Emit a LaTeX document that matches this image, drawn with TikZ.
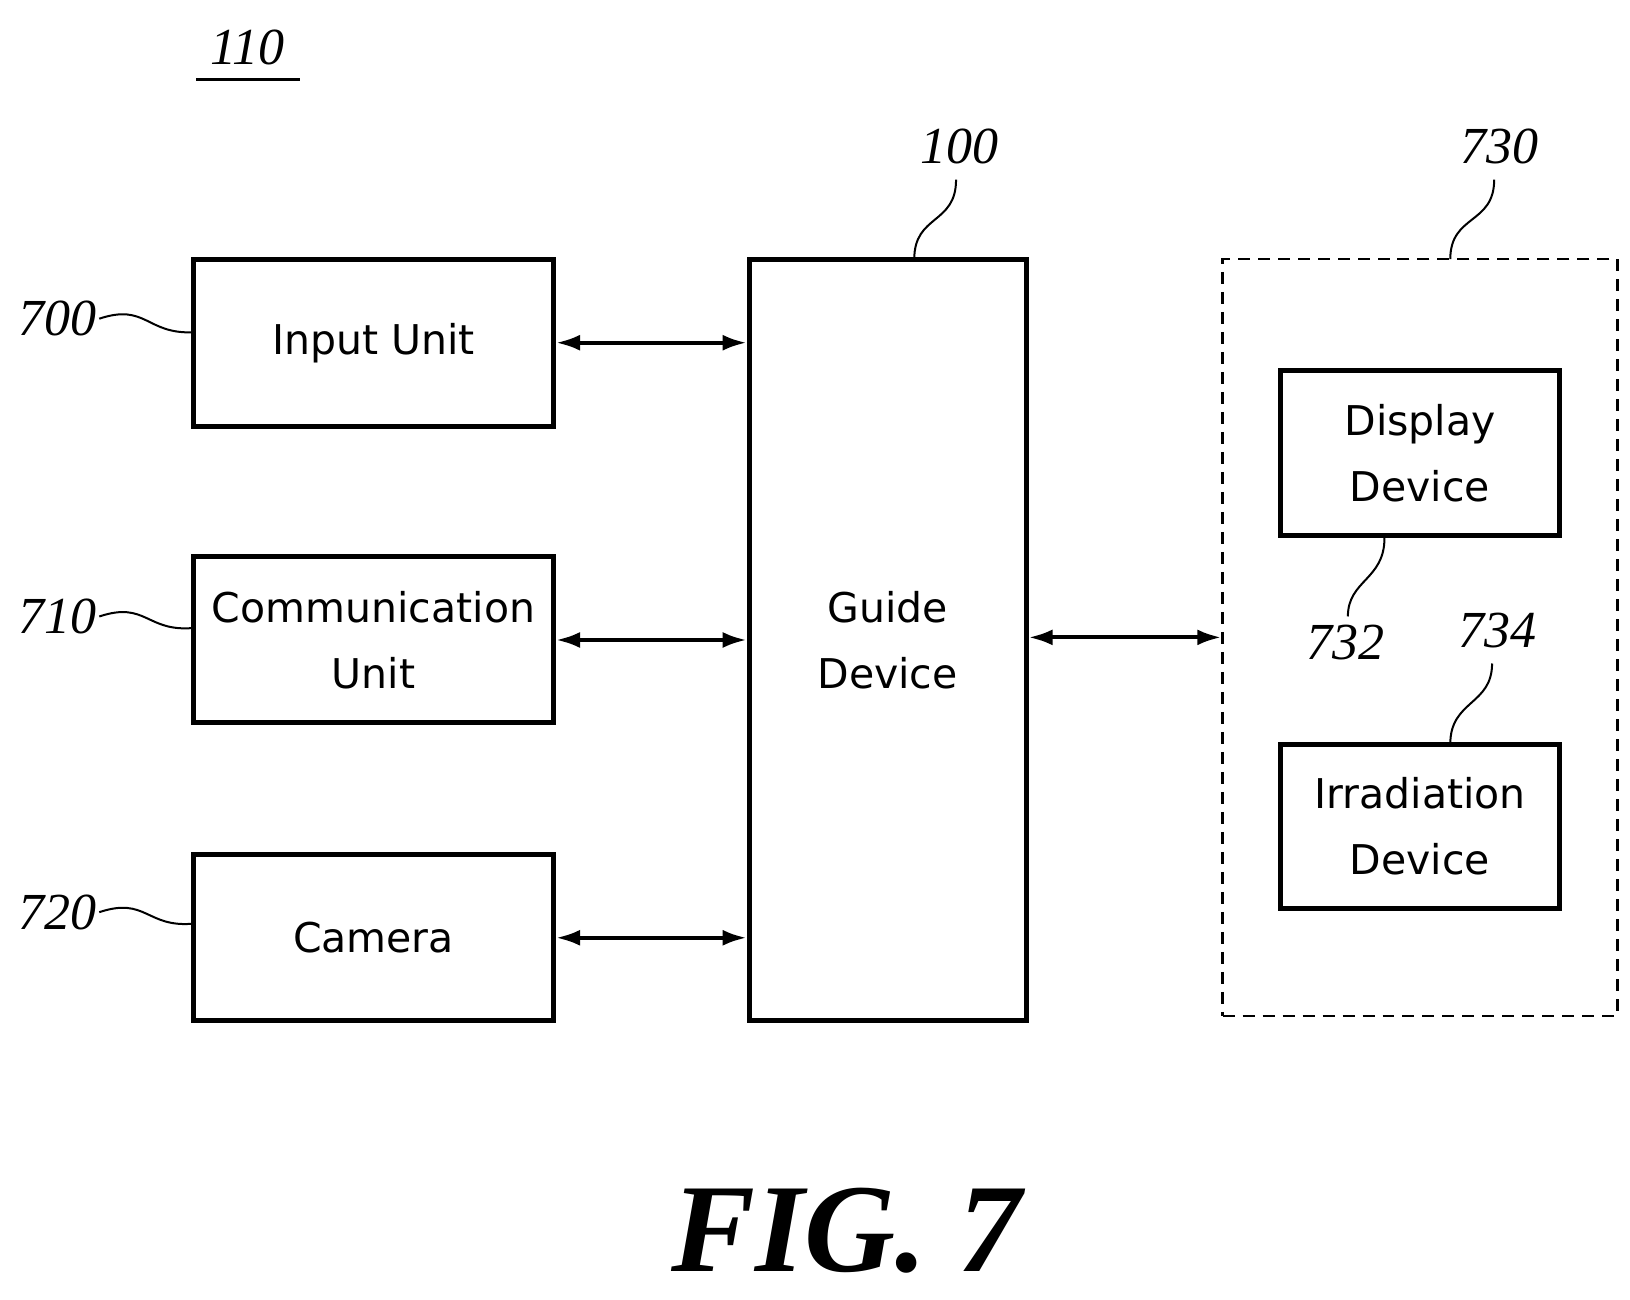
\documentclass[tikz,border=0pt]{standalone}
\usepackage{fontspec}
\setmainfont{Liberation Serif}
\setsansfont{DejaVu Sans}
\usetikzlibrary{arrows.meta}
\begin{document}
\begin{tikzpicture}[x=1.045pt,y=-1.045pt,
 box/.style={draw,line width=5pt,inner sep=0pt,align=center,font=\sffamily\fontsize{41}{66}\selectfont},
 lbl/.style={font=\itshape\fontsize{52}{54}\selectfont},
 arr/.style={line width=4pt,<->,>={Latex[length=24pt,width=16pt]}},
 lead/.style={line width=2pt}]
\useasboundingbox (0,0) rectangle (1560,1244);
\node[box,minimum width=360pt,minimum height=167pt] (in) at (357.5,328) {Input Unit};
\node[box,minimum width=360pt,minimum height=166pt] (co) at (357.5,612.5) {Communication\\Unit};
\node[box,minimum width=360pt,minimum height=166pt] (ca) at (357.5,897.5) {Camera};
\node[box,minimum width=277pt,minimum height=762pt] (gd) at (849.5,612.5) {Guide\\Device};
\node[draw,line width=2.5pt,dash pattern=on 12pt off 8pt,minimum width=395pt,minimum height=757pt,inner sep=0pt] (ex) at (1359,610) {};
\node[box,minimum width=280pt,minimum height=165pt] (di) at (1359,434) {Display\\Device};
\node[box,minimum width=280pt,minimum height=165pt] (ir) at (1359,791) {Irradiation\\Device};
\draw[arr] (in.east) -- (in.east -| gd.west);
\draw[arr] (co.east) -- (co.east -| gd.west);
\draw[arr] (ca.east) -- (ca.east -| gd.west);
\draw[arr] (gd.east |- ex.west) -- (ex.west);
\node[lbl] (l110) at (237,45) {110};
\draw[line width=2.5pt] (188,76) -- (287,76);
\node[lbl] (l100) at (918,140) {100};
\node[lbl] (l730) at (1435,140) {730};
\node[lbl] (l700) at (55,305) {700};
\node[lbl] (l710) at (55,590) {710};
\node[lbl] (l720) at (55,873) {720};
\node[lbl] (l732) at (1288,615) {732};
\node[lbl] (l734) at (1433,603) {734};
\node[lbl,font=\bfseries\itshape\fontsize{126}{126}\selectfont] (fig) at (810,1178) {FIG. 7};
\draw[lead] (95,305) .. controls (140,290) and (140,320) .. (185,318);
\draw[lead] (95,590) .. controls (140,575) and (140,605) .. (185,601);
\draw[lead] (95,873) .. controls (140,858) and (140,888) .. (185,884);
\draw[lead] (915,172) .. controls (915,215) and (875,205) .. (875,248);
\draw[lead] (1430,172) .. controls (1430,215) and (1388,205) .. (1388,248);
\draw[lead] (1325,515) .. controls (1325,555) and (1290,555) .. (1290,590);
\draw[lead] (1428,635) .. controls (1428,675) and (1388,670) .. (1388,712);
\end{tikzpicture}
\end{document}
